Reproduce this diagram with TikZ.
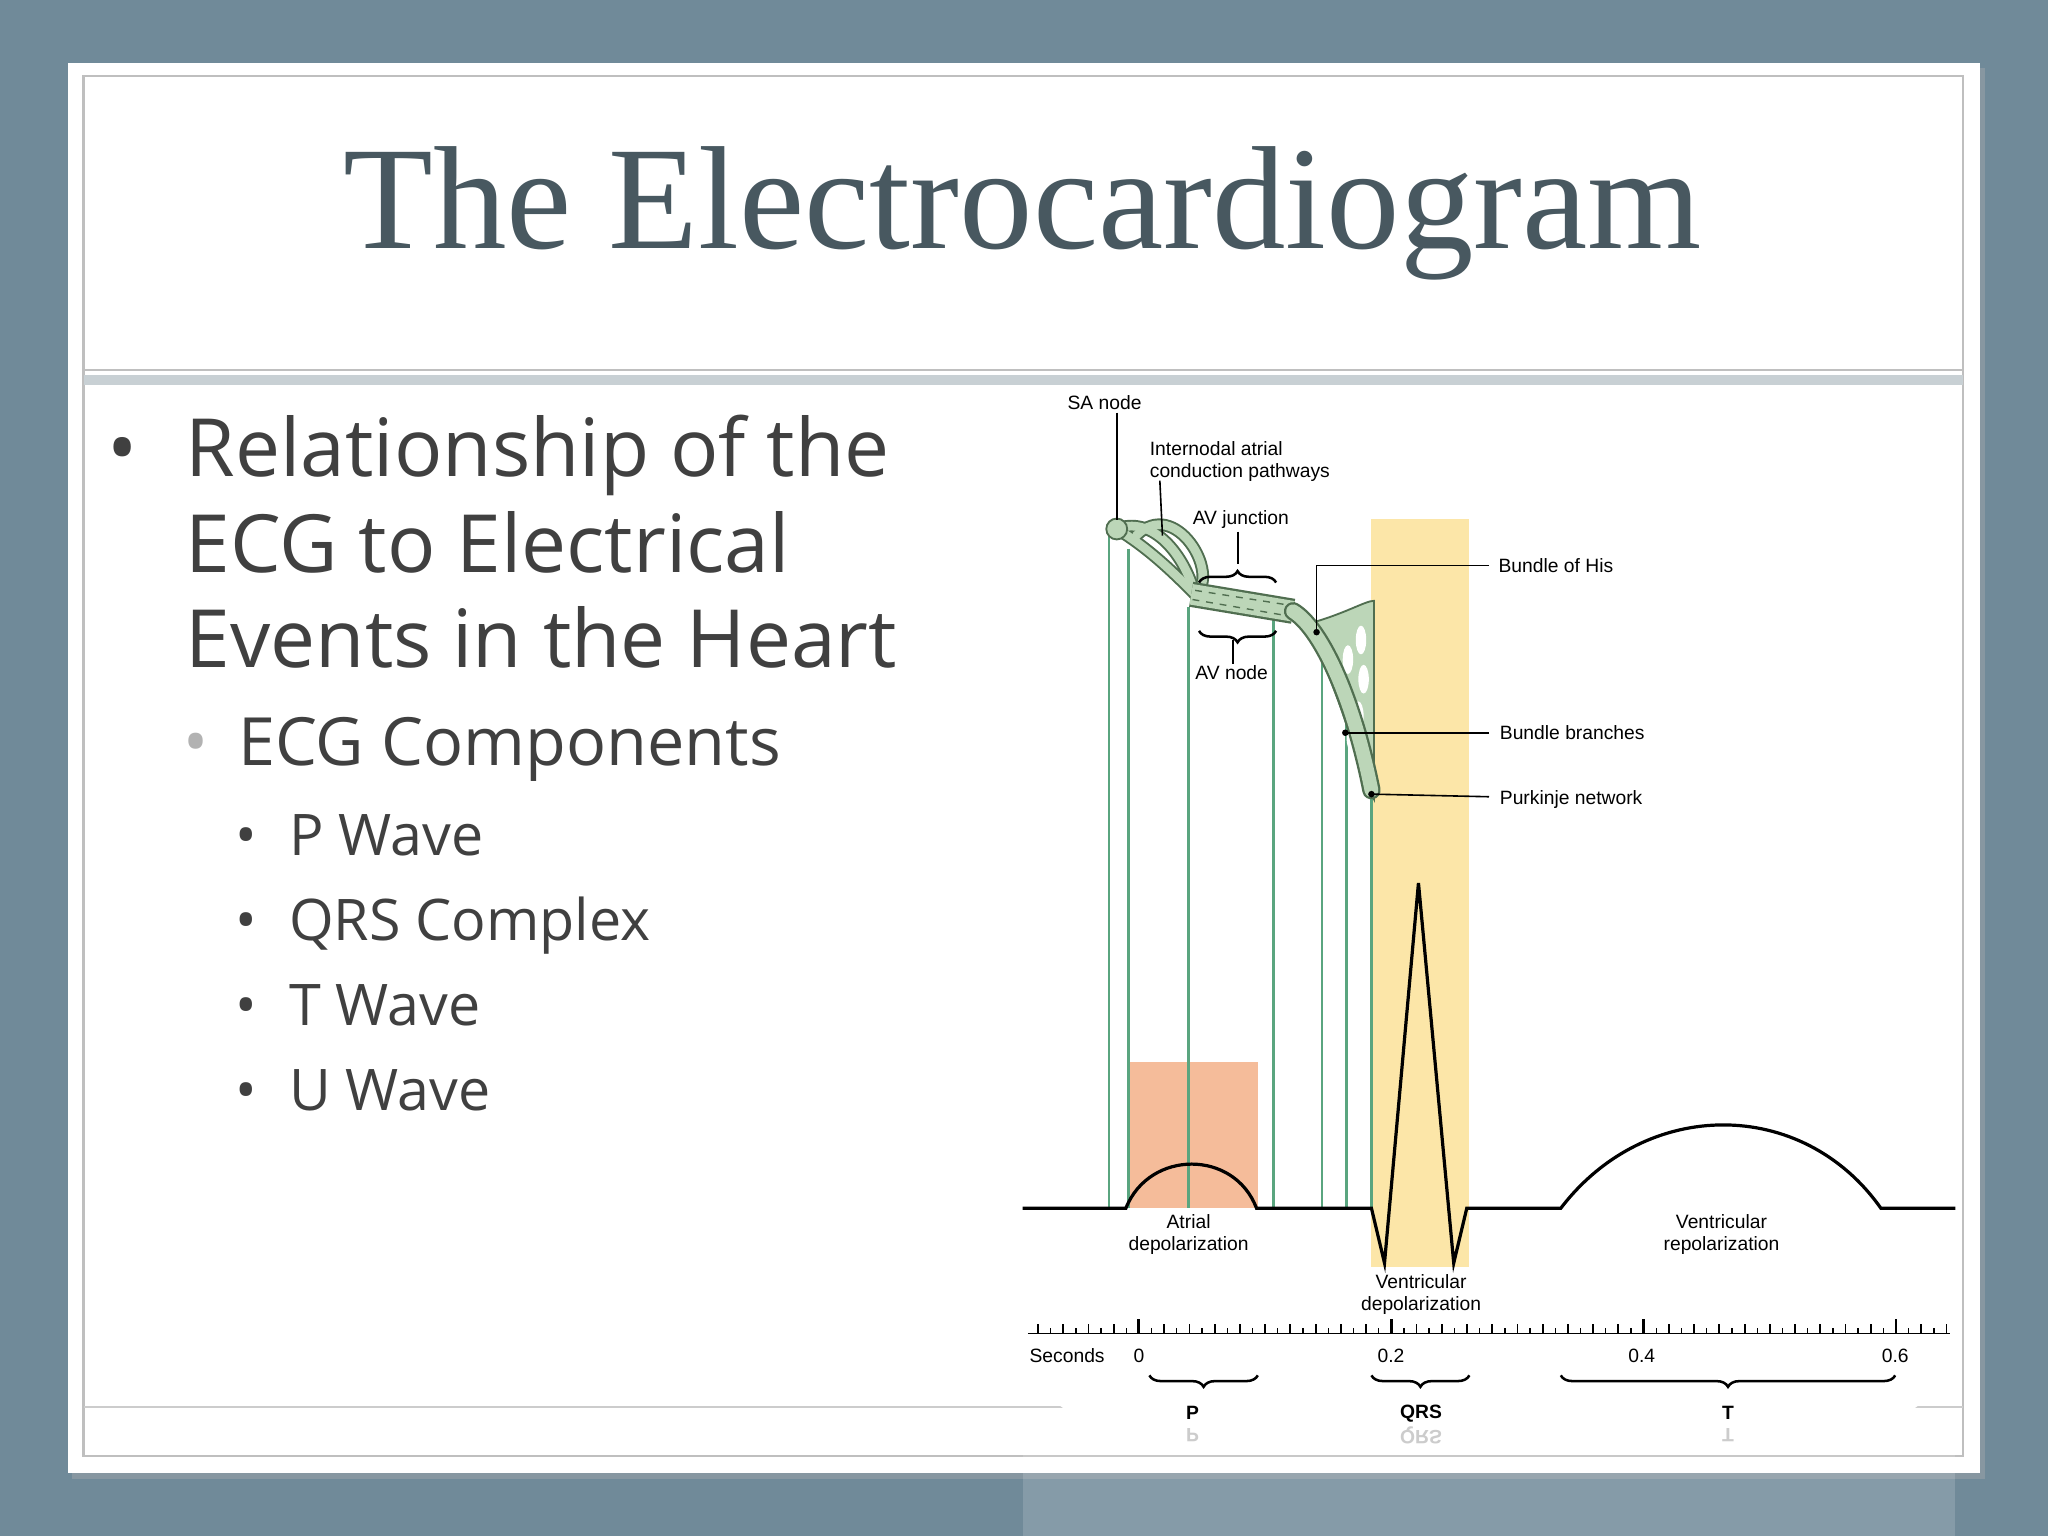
\documentclass[tikz,border=0pt]{standalone}
\usepackage{fontspec}
\setmainfont{Open Sans}
\newfontfamily\serifT{Liberation Serif}
\newfontfamily\lab{Liberation Sans}
\usetikzlibrary{decorations.pathreplacing}
\definecolor{bgc}{RGB}{112,138,153}
\definecolor{titc}{RGB}{72,88,96}
\definecolor{txt}{RGB}{64,64,64}
\definecolor{band}{RGB}{200,208,212}
\definecolor{grn}{RGB}{90,165,127}
\definecolor{hgrn}{RGB}{188,214,184}
\definecolor{dgrn}{RGB}{80,110,80}
\definecolor{orng}{RGB}{245,188,154}
\definecolor{yel}{RGB}{252,230,168}
\tikzset{
 lbl/.style={font=\lab\fontsize{8.4}{9.6}\selectfont, inner sep=0pt, align=center},
 lblb/.style={font=\lab\bfseries\fontsize{8.4}{9.6}\selectfont, inner sep=0pt},
 vl/.style={grn, line width=1.1},
 pt/.style={line width=0.7},
 hs/.style={draw=dgrn, line width=5.5, line cap=round},
 hsi/.style={draw=hgrn, line width=3.8, line cap=round},
 brc/.style={decorate, decoration={brace, amplitude=5pt}, line width=1.1},
}
\begin{document}
\begin{tikzpicture}[x=0.02cm,y=-0.02cm]
\useasboundingbox (0,0) rectangle (1568,1176);
\fill[bgc] (0,0) rectangle (1568,1176);
\fill[black!30,opacity=0.35] (55,52) rectangle (1520,1132);
\fill[white] (52,48) rectangle (1516,1128);
\draw[black!25, line width=1] (64,58) rectangle (1503,1115);
\draw[black!25, line width=0.8] (64,283) -- (1503,283);
\fill[band] (64,287) rectangle (1503,295);
\draw[black!20, line width=0.8] (64,1077) -- (1503,1077);
\node[font=\serifT\fontsize{64}{64}\selectfont, text=titc] (title) at (783,163) {The Electrocardiogram};
% bullets
\begin{scope}[every node/.style={anchor=base west, inner sep=0pt, text=txt}]
\node[font=\fontsize{35}{35}\selectfont] (b0) at (82,365) {•};
\node[font=\fontsize{35}{35}\selectfont] (l1) at (142,365) {Relationship of the};
\node[font=\fontsize{35}{35}\selectfont] (l2) at (142,438) {ECG to Electrical};
\node[font=\fontsize{35}{35}\selectfont] (l3) at (142,511) {Events in the Heart};
\node[font=\fontsize{29}{29}\selectfont, text=black!30] (b1) at (140,586) {•};
\node[font=\fontsize{29}{29}\selectfont] (l4) at (182,586) {ECG Components};
\foreach \t [count=\i] in {P Wave, QRS Complex, T Wave, U Wave}{
 \node[font=\fontsize{25}{25}\selectfont] (bb\i) at (180,{655+65*(\i-1)}) {•};
 \node[font=\fontsize{25}{25}\selectfont] (s\i) at (221,{655+65*(\i-1)}) {\t};
}
\end{scope}
% diagram panel
\fill[white,opacity=0.15] (783,1090) rectangle (1497,1176);
\fill[white, rounded corners=40] (783,298) rectangle (1497,1090);
\fill[orng] (864,813) rectangle (963,925);
\fill[yel] (1050,397) rectangle (1125,970);
\foreach \x/\y in {849/410,864/420,910/465,975/475,1012/490,1031/540,1050/605}{
 \draw[vl] (\x,\y) -- (\x,925);
}
% conduction system
\fill[hgrn, draw=dgrn, line width=0.8] (1000,478) .. controls (1030,470) and (1045,460) .. (1052,460) -- (1052,612) .. controls (1040,590) and (1030,540) .. (1000,478) -- cycle;
\foreach \cx/\cy in {1042/490,1044/520,1040/548,1044/578,1032/505,1035/565}{
 \fill[white] (\cx,\cy) ellipse (4 and 11);
}
\draw[hs] (855,405) .. controls (880,420) and (900,440) .. (915,455);
\draw[hs] (855,405) .. controls (880,395) and (905,420) .. (915,455);
\draw[hs] (870,410) .. controls (900,380) and (935,440) .. (915,455);
\draw[hsi] (855,405) .. controls (880,420) and (900,440) .. (915,455);
\draw[hsi] (855,405) .. controls (880,395) and (905,420) .. (915,455);
\draw[hsi] (870,410) .. controls (900,380) and (935,440) .. (915,455);
\draw[draw=dgrn, line width=11] (912,455) -- (990,468);
\draw[draw=hgrn, line width=9] (912,455) -- (990,468);
\draw[dgrn, dashed, line width=0.6] (915,452) -- (985,463);
\draw[dgrn, dashed, line width=0.6] (913,459) -- (983,471);
\draw[hs,line width=8] (990,468) .. controls (1010,480) and (1035,530) .. (1050,605);
\draw[hsi,line width=6] (990,468) .. controls (1010,480) and (1035,530) .. (1050,605);
\fill[hgrn, draw=dgrn, line width=0.8] (855,405) circle (8);
% labels
\node[lbl, anchor=west] (sa) at (817,308) {SA node};
\draw[pt] (855,316) -- (855,398);
\node[lbl, anchor=west, align=left] (inp) at (880,353) {Internodal atrial\\conduction pathways};
\draw[pt] (888,368) -- (890,410);
\node[lbl] (avj) at (950,398) {AV junction};
\draw[pt] (948,407) -- (948,432);
\draw[brc] (918,446) -- (977,446);
\draw[brc] (977,483) -- (918,483);
\draw[pt] (944,490) -- (944,508);
\node[lbl] (avn) at (943,515) {AV node};
\node[lbl, anchor=west] (his) at (1147,433) {Bundle of His};
\draw[pt] (1140,433) -- (1008,433) -- (1008,484);
\fill (1008,484) circle (2.5);
\node[lbl, anchor=west] (bbr) at (1148,561) {Bundle branches};
\draw[pt] (1140,561) -- (1030,561);
\fill (1030,561) circle (2.5);
\node[lbl, anchor=west] (pur) at (1148,612) {Purkinje network};
\draw[pt] (1140,610) -- (1050,608);
\fill (1050,608) circle (2.5);
% ECG trace
\draw[line width=1.4] (783,925) -- (862,925) .. controls (880,880) and (945,880) .. (962,925) -- (1050,925) -- (1060,967) -- (1086,676) -- (1113,967) -- (1123,925) -- (1195,925) .. controls (1260,840) and (1380,840) .. (1440,925) -- (1497,925);
\node[lbl] (ad) at (910,945) {Atrial\\depolarization};
\node[lbl] (vd) at (1088,991) {Ventricular\\depolarization};
\node[lbl] (vr) at (1318,945) {Ventricular\\repolarization};
% axis
\draw[line width=0.8] (787,1021) -- (1493,1021);
\foreach \i in {-8,...,64}{ \draw[line width=0.6] ({872+9.66*\i},1017) -- ({872+9.66*\i},1021); }
\foreach \i in {-4,...,32}{ \draw[line width=0.8] ({872+19.32*\i},1014) -- ({872+19.32*\i},1021); }
\foreach \i in {0,1,2,3}{ \draw[line width=1.3] ({872+193.2*\i},1010) -- ({872+193.2*\i},1021); }
\node[lbl] (sec) at (817,1038) {Seconds};
\node[lbl] (t0) at (872,1038) {0};
\node[lbl] (t2) at (1065,1038) {0.2};
\node[lbl] (t4) at (1257,1038) {0.4};
\node[lbl] (t6) at (1451,1038) {0.6};
\draw[brc] (963,1053) -- (880,1053);
\draw[brc] (1125,1053) -- (1050,1053);
\draw[brc] (1451,1053) -- (1195,1053);
\node[lblb] (p) at (913,1082) {P};
\node[lblb] (q) at (1088,1082) {QRS};
\node[lblb] (t) at (1323,1082) {T};
\node[lblb, text=black!20, yscale=-1] (pr) at (913,1099) {P};
\node[lblb, text=black!20, yscale=-1] (qr) at (1088,1099) {QRS};
\node[lblb, text=black!20, yscale=-1] (tr) at (1323,1099) {T};
\end{tikzpicture}
\end{document}
